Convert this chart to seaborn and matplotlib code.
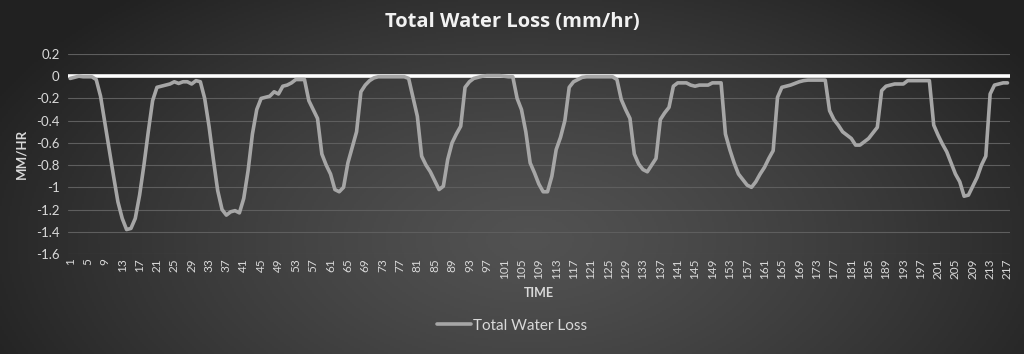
import matplotlib
matplotlib.use("Agg")
import matplotlib.pyplot as plt
import numpy as np
import pandas as pd
import seaborn as sns

# values, one per time step (1..217)
loss_1_50 = [
    -0.02, -0.01, 0.0, -0.005, -0.005, -0.005, -0.03, -0.18, -0.42, -0.66,
    -0.90, -1.13, -1.28, -1.38, -1.37, -1.28, -1.07, -0.80, -0.50, -0.22,
    -0.10, -0.09, -0.08, -0.07, -0.05, -0.065, -0.05, -0.05, -0.07, -0.04,
    -0.05, -0.20, -0.45, -0.75, -1.03, -1.20, -1.25, -1.22, -1.21, -1.23,
    -1.10, -0.85, -0.52, -0.30, -0.20, -0.19, -0.18, -0.14, -0.16, -0.09,
]
loss_51_100 = [
    -0.08, -0.06, -0.03, -0.03, -0.03, -0.22, -0.30, -0.38, -0.70, -0.80,
    -0.88, -1.02, -1.04, -1.00, -0.78, -0.64, -0.50, -0.14, -0.08, -0.04,
    -0.015, -0.005, -0.005, -0.005, -0.005, -0.005, -0.005, -0.005, -0.02, -0.19,
    -0.36, -0.72, -0.80, -0.86, -0.94, -1.02, -0.99, -0.75, -0.60, -0.52,
    -0.45, -0.10, -0.05, -0.02, -0.01, 0.0, 0.005, 0.005, 0.005, 0.005,
]
loss_101_150 = [
    0.0, -0.005, -0.005, -0.20, -0.30, -0.50, -0.78, -0.87, -0.97, -1.04,
    -1.04, -0.90, -0.66, -0.55, -0.40, -0.10, -0.05, -0.03, -0.01, -0.005,
    -0.005, -0.005, -0.005, -0.005, -0.005, -0.005, -0.03, -0.21, -0.30, -0.38,
    -0.70, -0.79, -0.84, -0.86, -0.80, -0.74, -0.39, -0.33, -0.28, -0.09,
    -0.06, -0.06, -0.06, -0.08, -0.09, -0.08, -0.08, -0.08, -0.06, -0.06,
]
loss_151_217 = [
    -0.06, -0.52, -0.66, -0.78, -0.88, -0.93, -0.98, -1.00, -0.95, -0.88,
    -0.82, -0.74, -0.67, -0.19, -0.10, -0.09, -0.08, -0.065, -0.05, -0.04,
    -0.035, -0.035, -0.035, -0.035, -0.035, -0.31, -0.39, -0.44, -0.50, -0.53,
    -0.56, -0.62, -0.62, -0.59, -0.56, -0.51, -0.46, -0.13, -0.09, -0.08,
    -0.07, -0.07, -0.07, -0.04, -0.04, -0.04, -0.04, -0.04, -0.04, -0.44,
    -0.53, -0.61, -0.68, -0.78, -0.88, -0.95, -1.08, -1.07, -0.99, -0.91,
    -0.80, -0.72, -0.16, -0.08, -0.07, -0.06, -0.06,
]
water_loss = loss_1_50 + loss_51_100 + loss_101_150 + loss_151_217
time = list(range(1, len(water_loss) + 1))
y_ticks = [0.2, 0, -0.2, -0.4, -0.6, -0.8, -1, -1.2, -1.4, -1.6]

df = pd.DataFrame({"TIME": time, "Total Water Loss": water_loss})

sns.set_style("dark")
plt.rcParams['font.family'] = ['Lato', 'DejaVu Sans']

fig = plt.figure(figsize=(10.24, 3.54), dpi=100)

# dark radial backdrop
bg = fig.add_axes([0, 0, 1, 1], zorder=0)
gx, gy = np.meshgrid(np.linspace(0, 1024, 512), np.linspace(0, 354, 177))
d = np.sqrt(((gx - 530) / 600) ** 2 + ((gy - 240) / 330) ** 2)
shade = 0.32 - 0.19 * np.clip(d, 0, 1) ** 1.3
bg.imshow(np.dstack([shade] * 3), aspect='auto', extent=[0, 1, 0, 1])
bg.axis('off')

ax = fig.add_axes([0.0664, 0.2825, 0.9196, 0.565], zorder=1)
ax.set_facecolor('none')

for t in y_ticks:
    ax.axhline(t, color='#5e5e5e', lw=0.8, zorder=1)
ax.axhline(0, color='white', lw=2.6, zorder=2)

sns.lineplot(data=df, x="TIME", y="Total Water Loss", color='#a6a6a6',
             linewidth=2.6, ax=ax, label='Total Water Loss', zorder=3)

ax.set_xlim(0.5, len(water_loss) + 0.5)
ax.set_ylim(-1.6, 0.2)
ax.set_xticks(time[::4])
ax.set_xticklabels([str(t) for t in time[::4]], rotation=90)
ax.set_yticks(y_ticks)
ax.set_yticklabels([f'{t:g}' for t in y_ticks])
ax.tick_params(axis='x', colors='#d9d9d9', labelsize=8.5, length=0, pad=3)
ax.tick_params(axis='y', colors='#d9d9d9', labelsize=9.5, length=0, pad=6)
ax.grid(False)
for s in ax.spines.values():
    s.set_visible(False)

ax.set_xlabel('TIME', color='#d9d9d9', fontsize=9, fontweight='bold', labelpad=6)
ax.set_ylabel('MM/HR', color='#d9d9d9', fontsize=9.5, fontweight='bold', labelpad=6)

fig.suptitle('Total Water Loss (mm/hr)', x=0.5, y=0.965, color='#f2f2f2',
             fontsize=14.5, fontweight='bold', family=['Open Sans', 'DejaVu Sans'])

ax.legend_.remove()
leg = fig.legend(*ax.get_legend_handles_labels(), loc='center',
                 bbox_to_anchor=(0.5, 0.08), frameon=False, fontsize=11,
                 handlelength=2.2, handletextpad=0.1)
for txt in leg.get_texts():
    txt.set_color('#d9d9d9')

fig.savefig('out.png', dpi=100)
